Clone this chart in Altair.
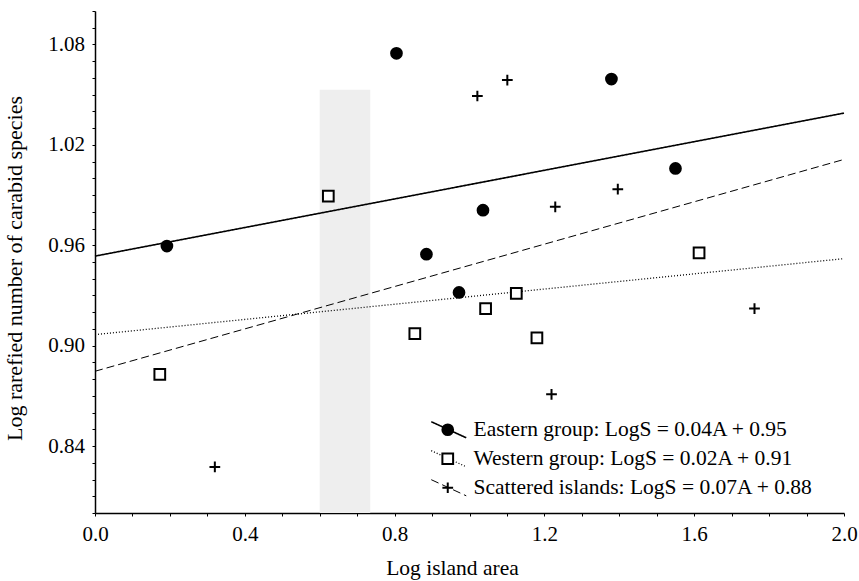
import altair as alt
import pandas as pd

# ---------------- data ----------------
groups = [
    "Eastern group: LogS = 0.04A + 0.95",
    "Western group: LogS = 0.02A + 0.91",
    "Scattered islands: LogS = 0.07A + 0.88",
]
series = ["eastern", "western", "scattered"]

eastern_x = [0.192, 0.805, 0.885, 1.036, 1.379, 1.550, 0.972]
eastern_y = [0.9595, 1.0747, 0.9547, 0.981, 1.0593, 1.0059, 0.9318]
western_x = [0.623, 0.173, 0.854, 1.125, 1.043, 1.180, 1.613]
western_y = [0.9894, 0.8829, 0.9072, 0.9312, 0.9222, 0.9046, 0.9554]
scattered_x = [0.320, 1.021, 1.101, 1.229, 1.396, 1.761, 1.219]
scattered_y = [0.8275, 1.0492, 1.0587, 0.983, 0.9935, 0.9222, 0.8709]

line_x = [0.0, 2.0]
eastern_line = [0.9535, 1.039]
western_line = [0.9066, 0.952]
scattered_line = [0.8847, 1.0113]

# light grey band (scan shading) in data units
band_x = [0.60, 0.735]
band_y = [0.80, 1.053]

x_ticks = [round(0.1 * i, 1) for i in range(21)]
x_major = ["0.0", "0.4", "0.8", "1.2", "1.6", "2.0"]
y_ticks = [round(0.80 + 0.01 * i, 2) for i in range(31)]
y_major = ["0.84", "0.90", "0.96", "1.02", "1.08"]

# ---------------- tables ----------------
pts = []
for g, xs, ys in zip(groups, [eastern_x, western_x, scattered_x],
                     [eastern_y, western_y, scattered_y]):
    for a, b in zip(xs, ys):
        pts.append({"x": a, "y": b, "group": g})
points_df = pd.DataFrame(pts)

lns = []
for s, ys in zip(series, [eastern_line, western_line, scattered_line]):
    for a, b in zip(line_x, ys):
        lns.append({"x": a, "y": b, "series": s})
lines_df = pd.DataFrame(lns)

band_df = pd.DataFrame([{"x0": band_x[0], "x1": band_x[1],
                         "y0": band_y[0], "y1": band_y[1]}])

FONT = "Liberation Serif"

xscale = alt.Scale(domain=[0, 2.0], nice=False, zero=False)
yscale = alt.Scale(domain=[0.80, 1.10], nice=False, zero=False)

xmaj = "[" + ",".join("'%s'" % v for v in x_major) + "]"
ymaj = "[" + ",".join("'%s'" % v for v in y_major) + "]"

xaxis = alt.Axis(
    values=x_ticks,
    labelExpr=f"indexof({xmaj}, format(datum.value, '.1f')) >= 0 ? format(datum.value, '.1f') : ''",
    title="Log island area",
    titleX=357, titleY=61, titleBaseline="alphabetic",
    titleFont=FONT, titleFontSize=21.5, titleFontWeight="normal", titleColor="black",
    labelFont=FONT, labelFontSize=21, labelColor="black", labelPadding=7,
    tickSize=3, tickColor="black", tickWidth=1,
    domainColor="black", domainWidth=1.5, grid=False,
    labelOverlap=False, labelFlush=False,
)
yaxis = alt.Axis(
    values=y_ticks,
    labelExpr=f"indexof({ymaj}, format(datum.value, '.2f')) >= 0 ? format(datum.value, '.2f') : ''",
    title="Log rarefied number of carabid species",
    titleX=-74, titleY=257, titleAngle=270, titleBaseline="alphabetic", titleAlign="center",
    titleFont=FONT, titleFontSize=22, titleFontWeight="normal", titleColor="black",
    labelFont=FONT, labelFontSize=21, labelColor="black", labelPadding=7.5,
    tickSize=3, tickColor="black", tickWidth=1,
    domainColor="black", domainWidth=1.5, grid=False,
    labelOverlap=False, labelFlush=False,
)

band = alt.Chart(band_df).mark_rect(color="#eeeeee").encode(
    x=alt.X("x0:Q", scale=xscale, axis=xaxis, title="Log island area"),
    x2="x1:Q",
    y=alt.Y("y0:Q", scale=yscale, axis=yaxis, title="Log rarefied number of carabid species"),
    y2="y1:Q",
)

# legend of line styles (slanted strokes, no visible labels) drawn under the marker legend
line_legend = alt.Legend(
    orient="none", legendX=343, legendY=408, title=None, padding=0,
    symbolType="M-3,-1.38L3,1.38", symbolSize=136,
    symbolStrokeColor="black", symbolFillColor="transparent", symbolOpacity=1,
    labelFont=FONT, labelFontSize=21.5, labelExpr="' '", labelLimit=600,
    rowPadding=6,
)

lines = alt.Chart(lines_df).mark_line(color="black").encode(
    x=alt.X("x:Q", scale=xscale, axis=xaxis, title="Log island area"),
    y=alt.Y("y:Q", scale=yscale, axis=yaxis, title="Log rarefied number of carabid species"),
    strokeDash=alt.StrokeDash("series:N",
                              scale=alt.Scale(domain=series, range=[[1, 0], [1, 2], [8, 4]]),
                              legend=line_legend),
    strokeWidth=alt.StrokeWidth("series:N",
                                scale=alt.Scale(domain=series, range=[1.6, 1.0, 1.6]),
                                legend=line_legend),
)

pt_legend = alt.Legend(
    orient="none", legendX=342, legendY=408, title=None, padding=0,
    symbolStrokeWidth=2, symbolOpacity=1,
    labelFont=FONT, labelFontSize=21.5, labelColor="black", labelLimit=600,
    labelOffset=15, rowPadding=6,
)

points = alt.Chart(points_df).mark_point(
    filled=False, strokeWidth=2, opacity=1
).encode(
    x=alt.X("x:Q", scale=xscale, axis=xaxis, title="Log island area"),
    y=alt.Y("y:Q", scale=yscale, axis=yaxis, title="Log rarefied number of carabid species"),
    shape=alt.Shape("group:N",
                    scale=alt.Scale(domain=groups,
                                    range=["circle", "square", "M-1,0L1,0M0,-1L0,1"]),
                    legend=pt_legend),
    fill=alt.Fill("group:N",
                  scale=alt.Scale(domain=groups, range=["black", "white", "transparent"]),
                  legend=pt_legend),
    stroke=alt.Stroke("group:N",
                      scale=alt.Scale(domain=groups, range=["black", "black", "black"]),
                      legend=pt_legend),
    size=alt.Size("group:N",
                  scale=alt.Scale(domain=groups, range=[115, 115, 169]),
                  legend=pt_legend),
)

chart = alt.layer(band, lines, points).properties(
    width=749, height=502,
    padding={"left": 95, "top": 11, "right": 15, "bottom": 68},
    autosize=alt.AutoSizeParams(type="none"),
    background="white",
).configure_view(stroke=None)

chart.save("out.html", embed_options={"renderer": "svg", "actions": False})
